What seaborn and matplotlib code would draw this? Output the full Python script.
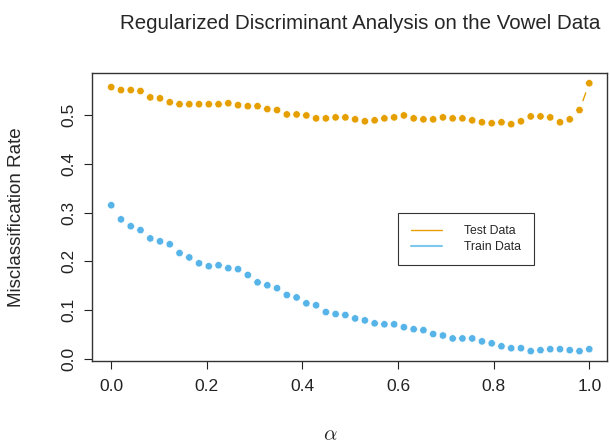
import numpy as np
import pandas as pd
import matplotlib
matplotlib.use("Agg")
import matplotlib.pyplot as plt
from matplotlib.lines import Line2D
import seaborn as sns

# regularization parameter grid (50 values from 0 to 1)
alpha = np.linspace(0, 1, 50)

test_err = [0.557, 0.551, 0.551, 0.549, 0.536, 0.534, 0.526, 0.522, 0.522, 0.522,
            0.522, 0.522, 0.524, 0.520, 0.518, 0.518, 0.512, 0.510, 0.501, 0.501,
            0.499, 0.493, 0.493, 0.495, 0.495, 0.491, 0.487, 0.489, 0.493, 0.495,
            0.499, 0.493, 0.491, 0.491, 0.495, 0.493, 0.493, 0.489, 0.485, 0.483,
            0.485, 0.481, 0.487, 0.497, 0.497, 0.495, 0.485, 0.491, 0.510, 0.565]

train_err = [0.315, 0.286, 0.272, 0.264, 0.247, 0.241, 0.235, 0.217, 0.208, 0.196,
             0.190, 0.192, 0.186, 0.184, 0.172, 0.157, 0.151, 0.145, 0.131, 0.126,
             0.114, 0.110, 0.096, 0.092, 0.090, 0.083, 0.079, 0.073, 0.071, 0.071,
             0.065, 0.061, 0.059, 0.051, 0.048, 0.042, 0.042, 0.042, 0.036, 0.032,
             0.026, 0.022, 0.022, 0.016, 0.018, 0.020, 0.020, 0.018, 0.016, 0.020]

orange = "#E69F00"
blue = "#56B4E9"
pal = {"Test Data": orange, "Train Data": blue}

df = pd.DataFrame({
    "alpha": np.concatenate([alpha, alpha]),
    "rate": test_err + train_err,
    "set": ["Test Data"] * len(alpha) + ["Train Data"] * len(alpha),
})

sns.set_style("ticks")
plt.rcParams["font.family"] = ["Liberation Sans", "DejaVu Sans"]
plt.rcParams["mathtext.fontset"] = "cm"

fig = plt.figure(figsize=(6.1, 4.45), dpi=100)
ax = fig.add_axes([0.151, 0.189, 0.844, 0.647])

# type="b" look: line with white gaps around each point, then the dots on top
sns.lineplot(data=df, x="alpha", y="rate", hue="set", palette=pal,
             marker="o", markersize=14, markerfacecolor="white",
             markeredgecolor="white", markeredgewidth=0, linewidth=1.0,
             legend=False, ax=ax)
sns.scatterplot(data=df, x="alpha", y="rate", hue="set", palette=pal,
                s=28, edgecolor="white", linewidth=0.4, legend=False,
                zorder=5, ax=ax)

ax.set_xlim(-0.04, 1.037)
ax.set_ylim(-0.004, 0.586)
ax.set_xticks([0.0, 0.2, 0.4, 0.6, 0.8, 1.0])
ax.set_yticks([0.0, 0.1, 0.2, 0.3, 0.4, 0.5])
ax.set_xticklabels(["0.0", "0.2", "0.4", "0.6", "0.8", "1.0"])
ax.set_yticklabels(["0.0", "0.1", "0.2", "0.3", "0.4", "0.5"], rotation=90, va="center")
ax.tick_params(axis="both", direction="out", length=6, width=0.8, labelsize=12.5,
               colors="#222222", pad=7)
ax.tick_params(axis="y", pad=5)

for s in ax.spines.values():
    s.set_visible(True)
    s.set_color("#333333")
    s.set_linewidth(1.0)

ax.set_xlabel(r"$\alpha$", fontsize=15)
ax.xaxis.set_label_coords(0.462, -0.225)
ax.set_ylabel("Misclassification Rate", fontsize=13.5)
ax.yaxis.set_label_coords(-0.13, 0.5)
ax.set_title("Regularized Discriminant Analysis on the Vowel Data",
             fontsize=14.8, pad=32, x=0.52)

handles = [Line2D([0], [0], color=orange, lw=1.0),
           Line2D([0], [0], color="#7EC8EE", lw=1.5)]
leg = ax.legend(handles, ["Test Data", "Train Data"], loc="upper left",
                bbox_to_anchor=(0.583, 0.535), fontsize=8.8, frameon=True,
                fancybox=False, edgecolor="black", borderpad=1.0,
                handlelength=2.6, handletextpad=1.8, labelspacing=0.3)
leg.get_frame().set_linewidth(0.8)

fig.savefig("out.png", dpi=100)
